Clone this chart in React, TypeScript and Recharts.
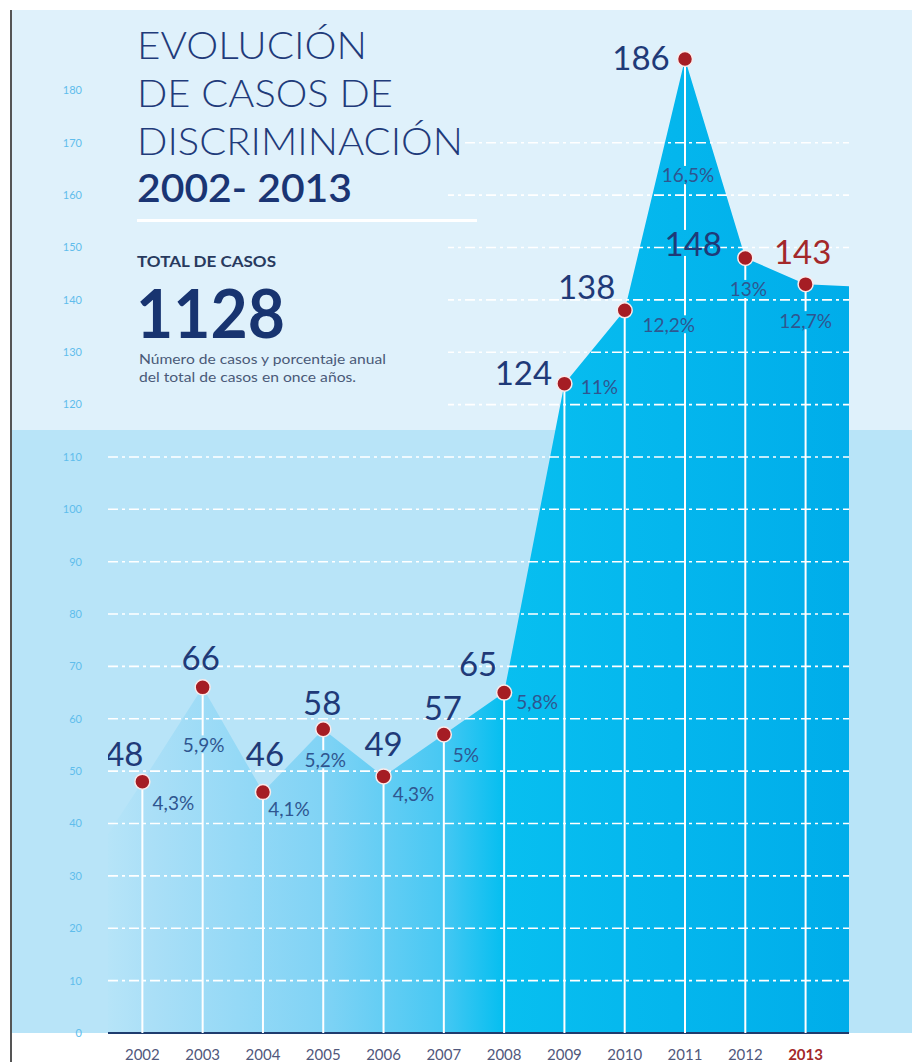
import React from 'react';
import { ComposedChart, Area, Line, XAxis, YAxis, ReferenceLine } from 'recharts';

// ---------- data ----------
const years = [2002, 2003, 2004, 2005, 2006, 2007, 2008, 2009, 2010, 2011, 2012, 2013];
const cases = [48, 66, 46, 58, 49, 57, 65, 124, 138, 186, 148, 143];
const shares = ['4,3%', '5,9%', '4,1%', '5,2%', '4,3%', '5%', '5,8%', '11%', '12,2%', '16,5%', '13%', '12,7%'];
const yTicks = [0, 10, 20, 30, 40, 50, 60, 70, 80, 90, 100, 110, 120, 130, 140, 150, 160, 170, 180];
const gridValues = [10, 20, 30, 40, 50, 60, 70, 80, 90, 100, 110, 120, 130, 140, 150, 160, 170];
const areaLeadIn = { year: 2001.43, cases: 38 };
const areaTail = { year: 2013.72, cases: 142.6 };
const xDomain = [2001.43, 2013.72];
const yDomain = [0, 190];
const highlightYear = 2013;

const titleLines = ['EVOLUCIÓN', 'DE CASOS DE', 'DISCRIMINACIÓN'];
const titleYears = '2002- 2013';
const totalLabel = 'TOTAL DE CASOS';
const totalValue = '1128';
const noteLines = ['Número de casos y porcentaje anual', 'del total de casos en once años.'];

// ---------- layout (not data) ----------
const CHART_W = 912;
const CHART_H = 1062;
const MARGIN = { top: 38, right: 63, bottom: 0, left: 8 };
const Y_AXIS_W = 100;
const X_AXIS_H = 29;
const PLOT_BOTTOM = CHART_H - MARGIN.bottom - X_AXIS_H;
const FONT = 'Lato, "Open Sans", sans-serif';

const titleWidths = [230, 256, 326];
const noteWidths = [247, 217];

// label placement offsets relative to each point (dx, dy)
const numberOffsets = [
  [-18, -29], [-2, -30], [2, -39], [-1, -27], [0, -33], [-1, -28],
  [-26, -30], [-41, -12], [-38, -24], [-44, -2], [-52, -15], [-3, -33],
];
const shareOffsets = [
  [31, 21], [1, 57], [26, 16], [2, 30], [30, 17], [22, 20],
  [33, 9], [35, 3], [44, 14], [3, 116], [3, 31], [0, 36],
];

const NAVY = '#1f3a78';
const RED = '#a3282a';
const SHARE_COLOR = '#2f5690';

const areaData = [
  areaLeadIn,
  ...years.map((y, i) => ({ year: y, cases: cases[i] })),
  areaTail,
];
const pointData = years.map((y, i) => ({ year: y, cases: cases[i], share: shares[i] }));

type Box = { cx: number; cy: number; w: number; h: number };

function labelBoxes(pts: { x: number; y: number }[]): Box[] {
  const boxes: Box[] = [];
  pts.forEach((p, j) => {
    if (p == null || p.x == null) return;
    boxes.push({
      cx: p.x + numberOffsets[j][0],
      cy: p.y + numberOffsets[j][1],
      w: String(cases[j]).length * 19,
      h: 26,
    });
    boxes.push({
      cx: p.x + shareOffsets[j][0],
      cy: p.y + shareOffsets[j][1],
      w: shares[j].length * 10.5,
      h: 18,
    });
  });
  return boxes;
}

function renderPoint(props: any) {
  const { cx, cy, index, points } = props;
  if (cx == null || cy == null) return <g key={`p-${index}`} />;
  const pts = Array.isArray(points) && points.length ? points : [];
  let boxes: Box[];
  if (pts.length) {
    boxes = labelBoxes(pts);
  } else {
    const own: any[] = [];
    own[index] = { x: cx, y: cy };
    boxes = labelBoxes(own);
  }
  const gaps = boxes
    .filter((b) => Math.abs(b.cx - cx) < b.w / 2 + 1)
    .map((b) => [b.cy - b.h / 2, b.cy + b.h / 2])
    .filter((g) => g[1] > cy && g[0] < PLOT_BOTTOM)
    .sort((a, b) => a[0] - b[0]);
  const segs: number[][] = [];
  let start = cy;
  gaps.forEach((g) => {
    if (g[0] > start) segs.push([start, g[0]]);
    start = Math.max(start, g[1]);
  });
  if (start < PLOT_BOTTOM) segs.push([start, PLOT_BOTTOM]);

  const isHi = years[index] === highlightYear;
  return (
    <g key={`p-${index}`}>
      {segs.map((s, k) => (
        <line key={k} x1={cx} x2={cx} y1={s[0]} y2={s[1]} stroke="#ffffff" strokeWidth={2} />
      ))}
      <circle cx={cx} cy={cy} r={7.5} fill="#a51d24" stroke="#fbeaea" strokeWidth={1.5} />
      <text
        x={cx + numberOffsets[index][0]}
        y={cy + numberOffsets[index][1]}
        textAnchor="middle"
        dominantBaseline="central"
        fontFamily={FONT}
        fontSize={33}
        fill={isHi ? RED : NAVY}
      >
        {cases[index]}
      </text>
      <text
        x={cx + shareOffsets[index][0]}
        y={cy + shareOffsets[index][1]}
        textAnchor="middle"
        dominantBaseline="central"
        fontFamily={FONT}
        fontSize={19}
        fontWeight={400}
        fill={SHARE_COLOR}
      >
        {shares[index]}
      </text>
    </g>
  );
}

function XTick(props: any) {
  const { x, y, payload } = props;
  const hi = payload.value === highlightYear;
  return (
    <text
      x={x}
      y={y}
      dy={21}
      textAnchor="middle"
      dominantBaseline="central"
      fontFamily={FONT}
      fontSize={15}
      fontWeight={hi ? 700 : 400}
      fill={hi ? RED : '#51587c'}
    >
      {payload.value}
    </text>
  );
}

export default function App() {
  return (
    <div style={{ position: 'absolute', left: 0, top: 0, width: CHART_W, height: CHART_H, background: '#ffffff', overflow: 'hidden' }}>
      <div style={{ position: 'absolute', left: 12, top: 10, width: 900, height: 420, background: '#dff1fb' }} />
      <div style={{ position: 'absolute', left: 12, top: 430, width: 900, height: 603, background: '#b8e4f8' }} />
      <div style={{ position: 'absolute', left: 10, top: 10, width: 2, height: 1052, background: '#555555' }} />
      <div style={{ position: 'absolute', left: 0, top: 0 }}>
        <ComposedChart width={CHART_W} height={CHART_H} margin={MARGIN}>
          <defs>
            <linearGradient id="areaFill" x1="0" y1="0" x2="1" y2="0">
              <stop offset="0" stopColor="#b6e4f8" />
              <stop offset="0.06" stopColor="#aadff7" />
              <stop offset="0.29" stopColor="#80d3f5" />
              <stop offset="0.45" stopColor="#48c8f3" />
              <stop offset="0.53" stopColor="#08bff0" />
              <stop offset="1" stopColor="#00adea" />
            </linearGradient>
          </defs>
          <XAxis
            dataKey="year"
            type="number"
            domain={xDomain}
            ticks={years}
            interval={0}
            height={X_AXIS_H}
            tickLine={false}
            tickSize={0}
            tickMargin={0}
            axisLine={{ stroke: '#1f3c6e', strokeWidth: 2 }}
            tick={<XTick />}
            allowDataOverflow
          />
          <YAxis
            type="number"
            domain={yDomain}
            ticks={yTicks}
            interval={0}
            width={Y_AXIS_W}
            axisLine={false}
            tickLine={false}
            tickSize={0}
            tickMargin={26}
            tick={{ fill: '#5fbdec', fontSize: 11, fontFamily: FONT }}
            allowDataOverflow
          />
          <Area
            data={areaData}
            dataKey="cases"
            type="linear"
            stroke="none"
            fill="url(#areaFill)"
            fillOpacity={1}
            isAnimationActive={false}
            dot={false}
            activeDot={false}
          />
          {gridValues.map((v) => (
            <ReferenceLine key={v} y={v} stroke="#ffffff" strokeWidth={1.6} strokeDasharray="10 4 3 4" />
          ))}
          <Line
            data={pointData}
            dataKey="cases"
            type="linear"
            stroke="none"
            strokeWidth={0}
            dot={renderPoint}
            activeDot={false}
            isAnimationActive={false}
          />
        </ComposedChart>
      </div>
      <svg width={CHART_W} height={CHART_H} style={{ position: 'absolute', left: 0, top: 0, pointerEvents: 'none' }}>
        <rect x={100} y={100} width={348} height={330} fill="#dff1fb" />
        <rect x={100} y={134} width={363} height={18} fill="#dff1fb" />
        {titleLines.map((t, i) => (
          <text
            key={t}
            x={137}
            y={59 + i * 48}
            fontFamily={FONT}
            fontWeight={300}
            fontSize={38}
            fill="#1f3b7a"
            textLength={titleWidths[i]}
            lengthAdjust="spacingAndGlyphs"
          >
            {t}
          </text>
        ))}
        <text x={137} y={202} fontFamily={FONT} fontWeight={600} fontSize={38} fill="#1a3574" textLength={215} lengthAdjust="spacingAndGlyphs">
          {titleYears}
        </text>
        <rect x={137} y={219} width={340} height={3} fill="#ffffff" />
        <text x={137} y={267} fontFamily={FONT} fontWeight={700} fontSize={15} fill="#283a5e" textLength={139} lengthAdjust="spacingAndGlyphs">
          {totalLabel}
        </text>
        <text x={136} y={338} fontFamily={FONT} fontWeight={700} fontSize={66} fill="#183470" textLength={149} lengthAdjust="spacingAndGlyphs">
          {totalValue}
        </text>
        {noteLines.map((t, i) => (
          <text
            key={t}
            x={139}
            y={364 + i * 18}
            fontFamily={FONT}
            fontSize={13}
            fill="#4a5a78"
            textLength={noteWidths[i]}
            lengthAdjust="spacingAndGlyphs"
          >
            {t}
          </text>
        ))}
      </svg>
    </div>
  );
}
